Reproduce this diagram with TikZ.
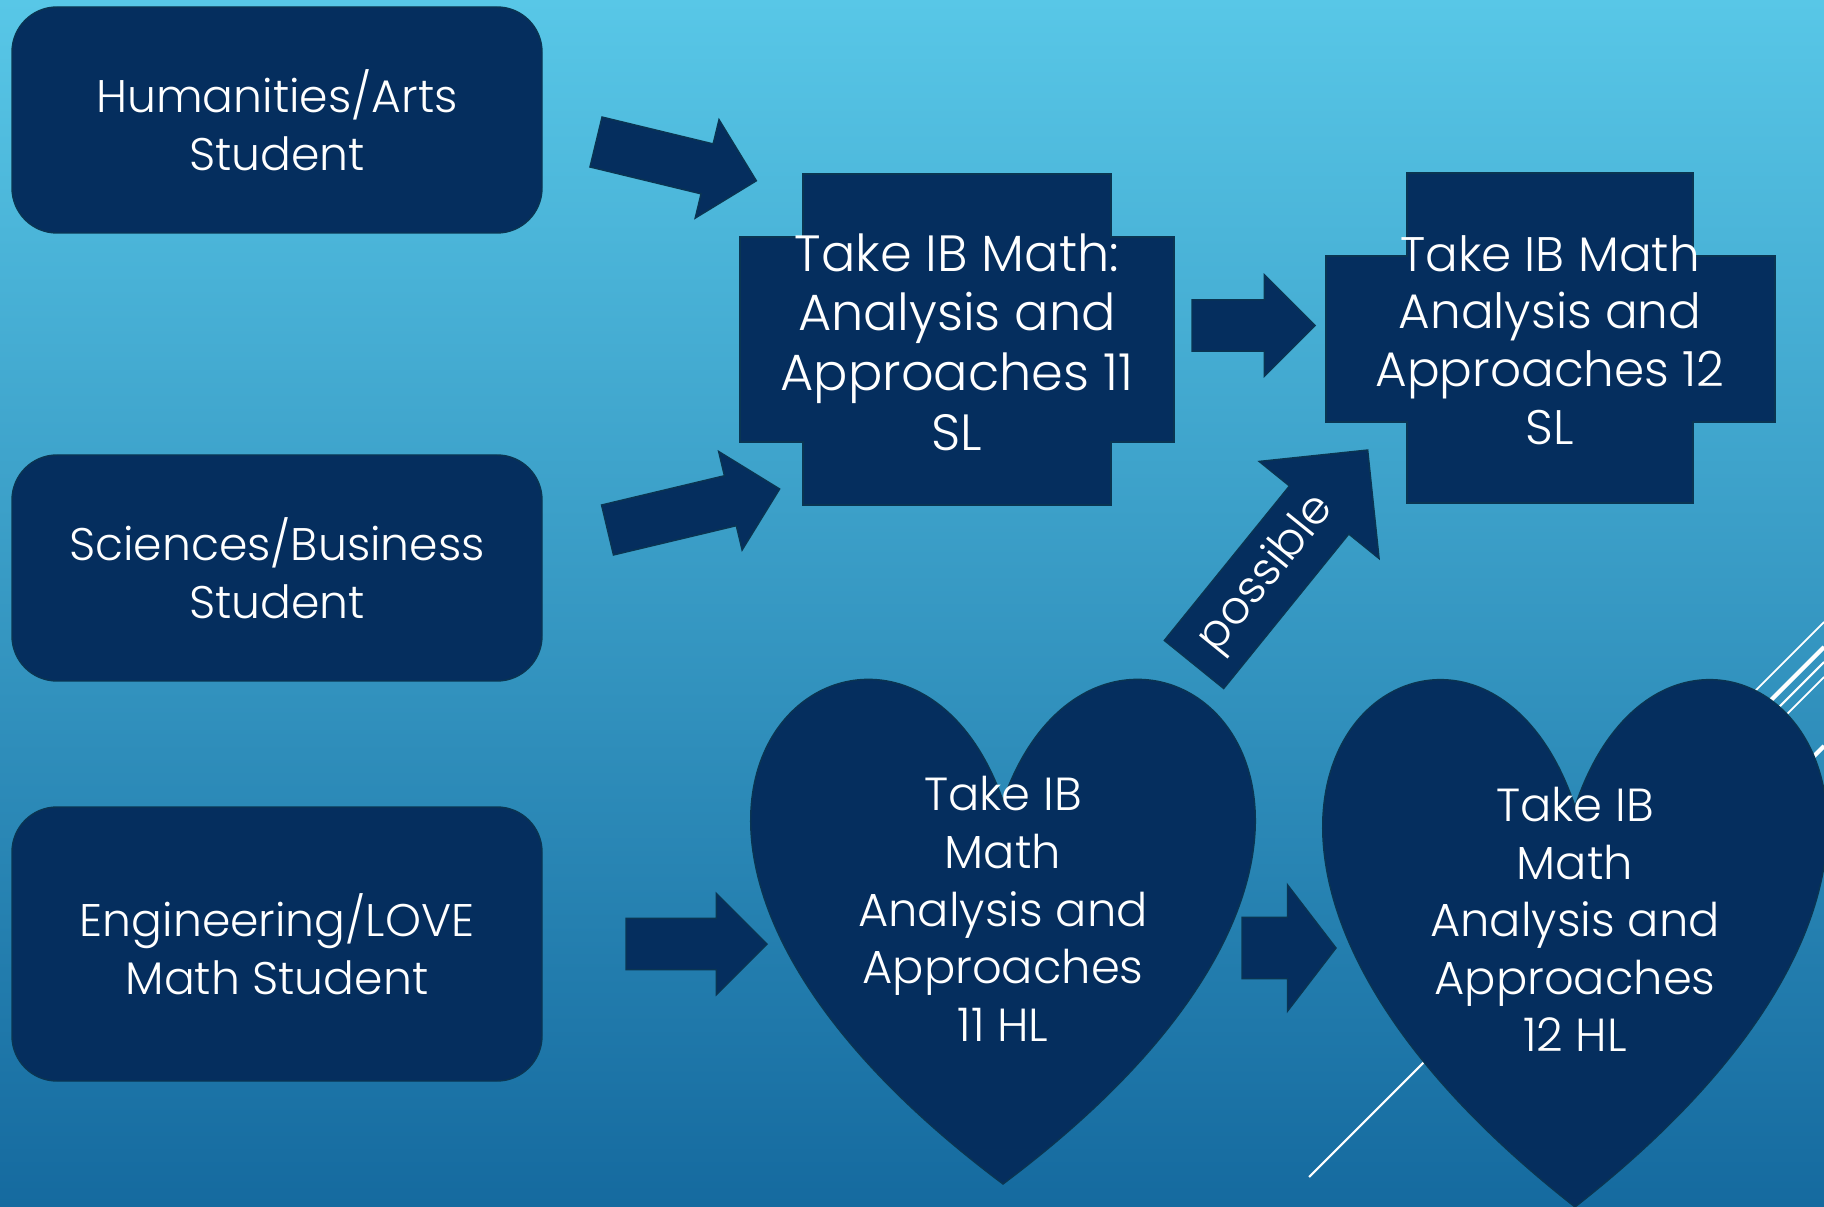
\documentclass[tikz,border=0pt]{standalone}
\usepackage{fontspec}
\setmainfont{Poppins Light}
\usetikzlibrary{shapes.arrows,positioning,calc}
\definecolor{navy}{HTML}{052E5E}
\definecolor{navyline}{HTML}{0A3552}
\definecolor{skytop}{HTML}{58C7E7}
\definecolor{skybottom}{HTML}{156A9F}
\tikzset{
  student/.style={rectangle,rounded corners=0.45cm,fill=navy,draw=navyline,thin,
    minimum width=5.30cm,minimum height=2.26cm,text=white,align=center,
    font=\fontsize{13}{16.5}\selectfont},
  blocktext/.style={text=white,align=center,font=\fontsize{14.5}{17}\selectfont},
  hearttext/.style={text=white,align=center,font=\fontsize{13.2}{16.4}\selectfont},
  panel/.style={fill=navy,draw=navyline,thin},
  fatarrow/.style={single arrow,fill=navy,draw=navyline,thin,anchor=tail,
    inner xsep=0pt,inner ysep=0.25cm,outer sep=0pt,
    single arrow head extend=0.25cm,single arrow tip angle=90},
  streak/.style={white,line cap=butt}
}
\begin{document}
\begin{tikzpicture}
% background
\useasboundingbox (0,0) rectangle (18.24,-12.07);
\fill[top color=skytop,bottom color=skybottom] (0,0) rectangle (18.24,-12.07);
% white streaks, partly behind the hearts
\draw[streak,line width=0.5pt] (17.00,-7.46) -- (18.24,-6.22);
\draw[streak,line width=1.2pt] (17.20,-7.51) -- (18.24,-6.47);
\draw[streak,line width=0.6pt] (13.09,-11.77) -- (18.24,-6.62);
\draw[streak,line width=0.5pt] (17.40,-7.61) -- (18.24,-6.77);
\draw[streak,line width=1.2pt] (17.90,-7.80) -- (18.24,-7.46);
%
\node (hum) [student] at (2.77,-1.20) {Humanities/Arts\\Student};
\node (sci) [student] at (2.77,-5.68) {Sciences/Business\\Student};
\node (eng) [student,minimum height=2.74cm] at (2.77,-9.44) {Engineering/LOVE\\Math Student};
%
\path[panel] (8.03,-1.74) -- (11.11,-1.74) -- (11.11,-2.37) -- (11.74,-2.37) -- (11.74,-4.42) -- (11.11,-4.42) -- (11.11,-5.05) -- (8.03,-5.05) -- (8.03,-4.42) -- (7.40,-4.42) -- (7.40,-2.37) -- (8.03,-2.37) -- cycle;
\node (sl11) [blocktext] at (9.57,-3.42) {Take IB Math:\\Analysis and\\Approaches 11\\SL};
\path[panel] (14.07,-1.73) -- (16.93,-1.73) -- (16.93,-2.56) -- (17.75,-2.56) -- (17.75,-4.22) -- (16.93,-4.22) -- (16.93,-5.03) -- (14.07,-5.03) -- (14.07,-4.22) -- (13.26,-4.22) -- (13.26,-2.56) -- (14.07,-2.56) -- cycle;
\node (sl12) [blocktext,font=\fontsize{13.8}{16.4}\selectfont] at (15.50,-3.40) {Take IB Math\\Analysis and\\Approaches 12\\SL};
%
\draw[panel] (10.03,-8.0075) .. controls (11.074,-5.027) and (15.144,-8.0075) .. (10.03,-11.84) .. controls (4.916,-8.0075) and (8.986,-5.027) .. cycle;
\node (hl11) [hearttext] at (10.03,-9.09) {Take IB\\Math\\Analysis and\\Approaches\\11 HL};
\draw[panel] (15.75,-8.065) .. controls (16.794,-4.95) and (20.864,-8.065) .. (15.75,-12.07) .. controls (10.636,-8.065) and (14.706,-4.95) .. cycle;
\node (hl12) [hearttext] at (15.75,-9.195) {Take IB\\Math\\Analysis and\\Approaches\\12 HL};
%
\node (a1) [fatarrow,minimum height=1.65cm,rotate=-13.6] at (5.96,-1.42) {};
\node (a2) [fatarrow,minimum height=1.77cm,rotate=13.4] at (6.075,-5.30) {};
\node (a3) [fatarrow,minimum height=1.41cm] at (6.26,-9.44) {};
\node (a4) [fatarrow,minimum height=1.23cm] at (11.92,-3.255) {};
\node (a5) [fatarrow,minimum height=0.94cm,inner ysep=0.30cm,single arrow head extend=0.325cm,single arrow tip angle=105] at (12.42,-9.48) {};
\node (a6) [fatarrow,minimum height=2.76cm,inner ysep=0.375cm,single arrow head extend=0.39cm,rotate=51] at (11.94,-6.645) {};
\node (poss) [text=white,font=\fontsize{13}{15}\selectfont,rotate=51] at ($(a6.tail)!0.42!(a6.tip)$) {possible};
\end{tikzpicture}
\end{document}
